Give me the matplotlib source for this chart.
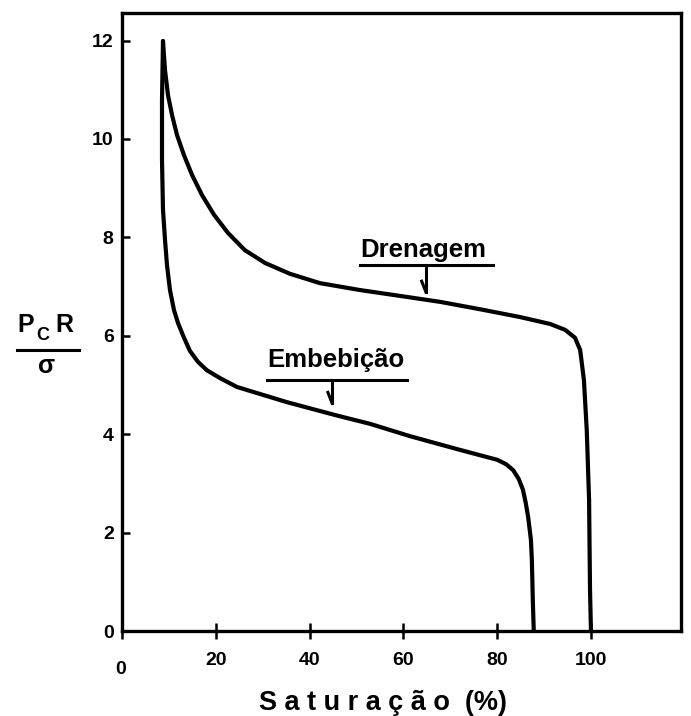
import matplotlib
matplotlib.use("Agg")
import matplotlib.pyplot as plt
from matplotlib.lines import Line2D

plt.rcParams['font.family'] = ['Liberation Sans', 'DejaVu Sans']
plt.rcParams['font.weight'] = 'bold'

# Saturação (%) vs. adimensional capillary pressure Pc*R/sigma
dren_s = [8.74, 9.17, 9.81, 10.66, 11.73, 13.22, 14.93, 17.06, 19.62, 22.6,
          26.2, 30.5, 35.8, 42.2, 50.7, 59.3, 67.8, 76.3, 84.9, 91.3,
          94.5, 96.6, 97.7, 98.5, 99.1, 99.6, 99.8, 100.0]
dren_p = [11.99, 11.40, 10.89, 10.49, 10.08, 9.67, 9.27, 8.86, 8.46, 8.09,
          7.74, 7.48, 7.26, 7.07, 6.93, 6.81, 6.69, 6.54, 6.38, 6.24,
          6.12, 5.96, 5.71, 5.10, 4.09, 2.66, 0.83, 0.0]

emb_s = [8.74, 8.53, 8.53, 8.74, 9.17, 9.59, 10.23, 11.09, 11.94, 13.22,
         14.5, 16.2, 18.1, 20.9, 24.5, 35.2, 45.8, 52.9, 61.4, 72.1,
         80.0, 81.9, 83.4, 84.6, 85.5, 86.1, 86.6, 87.2, 87.4, 87.6, 87.8]
emb_p = [11.99, 10.79, 9.57, 8.56, 7.95, 7.44, 6.93, 6.52, 6.26, 5.96,
         5.69, 5.47, 5.30, 5.14, 4.96, 4.65, 4.38, 4.21, 3.96, 3.68,
         3.48, 3.39, 3.27, 3.09, 2.87, 2.60, 2.32, 1.85, 1.44, 0.63, 0.0]

x_ticks = [0, 20, 40, 60, 80, 100]
y_ticks = [0, 2, 4, 6, 8, 10, 12]

W, H = 691, 716
fig = plt.figure(figsize=(W / 100, H / 100), dpi=100)
ax = fig.add_axes([122 / W, 1 - 631 / H, (681 - 122) / W, (631 - 13) / H])

ax.plot(dren_s, dren_p, color='black', lw=3.0, solid_joinstyle='round', solid_capstyle='round')
ax.plot(emb_s, emb_p, color='black', lw=3.0, solid_joinstyle='round', solid_capstyle='round')

ax.set_xlim(0, 119.2)
ax.set_ylim(0, 12.56)
for sp in ax.spines.values():
    sp.set_linewidth(2.4)

ax.set_xticks(x_ticks)
ax.set_xticklabels([''] + [str(v) for v in x_ticks[1:]])
ax.set_yticks(y_ticks)
ax.tick_params(axis='x', direction='inout', length=12, width=1.8, pad=9, labelsize=14)
ax.tick_params(axis='y', direction='in', length=6, width=1.8, pad=6, labelsize=14)
for lab in ax.get_xticklabels() + ax.get_yticklabels():
    lab.set_fontweight('bold')

# origin label sits a bit lower than the others
fig.text(121 / W, 1 - 669 / H, '0', ha='center', va='center', fontsize=14, fontweight='bold')

# curve labels with underline and pointer
def tag(text, x0, x1, y_text, y_line, x_arrow, y_tip):
    ax.text(x0, y_text, text, fontsize=18.5, fontweight='bold', ha='left', va='baseline')
    ax.plot([x0, x1], [y_line, y_line], color='black', lw=2.2)
    ax.plot([x_arrow, x_arrow], [y_line, y_tip], color='black', lw=2.2)
    ax.plot([x_arrow - 0.9, x_arrow], [y_tip + 0.22, y_tip], color='black', lw=2.2)

tag('Drenagem', 50.7, 79.1, 7.60, 7.44, 64.8, 6.89)
tag('Embebição', 30.9, 60.8, 5.37, 5.10, 44.8, 4.63)

# y label: Pc R over sigma
fig.text(17 / W, 1 - 332 / H, 'P', fontsize=18, fontweight='bold', va='baseline')
fig.text(36 / W, 1 - 340 / H, 'C', fontsize=13, fontweight='bold', va='baseline')
fig.text(55 / W, 1 - 332 / H, 'R', fontsize=18, fontweight='bold', va='baseline')
fig.add_artist(Line2D([17 / W, 79 / W], [1 - 350 / H, 1 - 350 / H], color='black', lw=2.2))
fig.text(47 / W, 1 - 373 / H, 'σ', fontsize=18, fontweight='bold', ha='center', va='baseline')

fig.text(383 / W, 1 - 710 / H, 'S a t u r a ç ã o  (%)', fontsize=19.5, fontweight='bold',
         ha='center', va='baseline')

fig.savefig('out.png', dpi=100)
